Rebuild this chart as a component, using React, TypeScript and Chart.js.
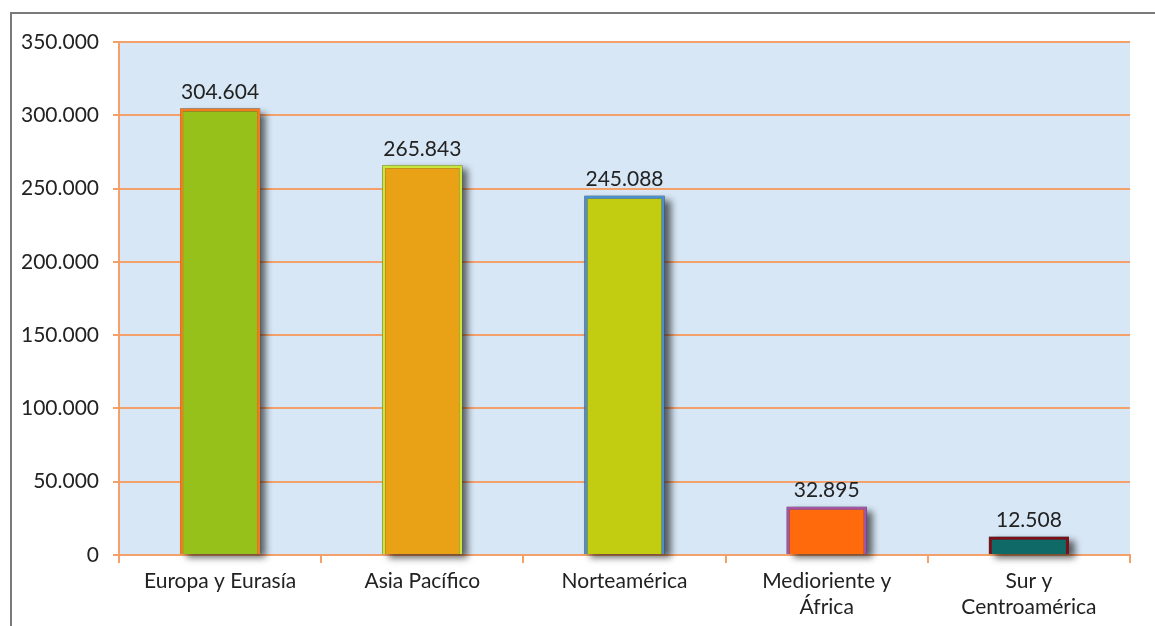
import React, { useEffect, useRef } from "react";
import { Chart, registerables } from "chart.js";

Chart.register(...registerables);

const categories: (string | string[])[] = [
  "Europa y Eurasía",
  "Asia Pacífico",
  "Norteamérica",
  ["Medioriente y", "África"],
  ["Sur y", "Centroamérica"],
];
const values = [304604, 265843, 245088, 32895, 12508];
const fillColors = ["#95c11a", "#e9a116", "#c2cd12", "#ff6b0c", "#0f6a67"];
const borderColors = ["#f47b20", "#c8e63c", "#4a8fd2", "#a555a6", "#7b1018"];
const yTickValues = [0, 50000, 100000, 150000, 200000, 250000, 300000, 350000];

const fmt = (v: number) => String(Math.round(v)).replace(/\B(?=(\d{3})+(?!\d))/g, ".");

const ORANGE = "#f4a06a";
const FONT = "Lato";
const TEXT = "#222222";

const chartPlugin = {
  id: "custom",
  beforeDraw(chart: any) {
    const { ctx, chartArea } = chart;
    ctx.save();
    ctx.fillStyle = "#d7e7f5";
    ctx.fillRect(chartArea.left, chartArea.top, chartArea.right - chartArea.left, chartArea.bottom - chartArea.top);
    ctx.restore();
  },
  beforeDatasetsDraw(chart: any) {
    const { ctx } = chart;
    const meta = chart.getDatasetMeta(0);
    meta.data.forEach((bar: any) => {
      const w = bar.width;
      const x0 = bar.x - w / 2;
      const y0 = bar.y;
      const h = bar.base - bar.y;
      ctx.save();
      ctx.shadowColor = "rgba(0,0,0,0.6)";
      ctx.shadowBlur = 7;
      ctx.shadowOffsetX = 6;
      ctx.shadowOffsetY = 4;
      ctx.fillStyle = "rgba(50,50,50,1)";
      ctx.fillRect(x0, y0, w, h);
      ctx.restore();
    });
  },
  afterDatasetsDraw(chart: any) {
    const { ctx } = chart;
    const meta = chart.getDatasetMeta(0);
    ctx.save();
    ctx.font = `21px ${FONT}`;
    ctx.fillStyle = TEXT;
    ctx.textAlign = "center";
    ctx.textBaseline = "bottom";
    meta.data.forEach((bar: any, i: number) => {
      ctx.fillText(fmt(values[i]), bar.x, bar.y - 6);
    });
    ctx.restore();
  },
};

export default function App() {
  const ref = useRef<HTMLCanvasElement | null>(null);
  useEffect(() => {
    if (!ref.current) return;
    const chart = new Chart(ref.current, {
      type: "bar",
      data: {
        labels: categories,
        datasets: [
          {
            data: values,
            backgroundColor: fillColors,
            borderColor: borderColors,
            borderWidth: 3,
            categoryPercentage: 1,
            barPercentage: 0.396,
          },
        ],
      },
      options: {
        responsive: false,
        animation: false,
        layout: { padding: { top: 42, right: 25, left: 0, bottom: 0 } },
        plugins: { legend: { display: false }, tooltip: { enabled: false } },
        scales: {
          x: {
            grid: {
              drawOnChartArea: false,
              drawTicks: true,
              tickLength: 8,
              tickColor: ORANGE,
              lineWidth: 2,
              offset: true,
            },
            border: { color: ORANGE, width: 2 },
            ticks: {
              color: TEXT,
              font: { family: FONT, size: 21, lineHeight: 1.2 },
              padding: 6,
              maxRotation: 0,
              autoSkip: false,
            },
            afterFit(scale: any) {
              scale.height = 71;
            },
          },
          y: {
            min: 0,
            max: 350000,
            afterBuildTicks(scale: any) {
              scale.ticks = yTickValues.map((v) => ({ value: v }));
            },
            grid: {
              color: ORANGE,
              lineWidth: 2,
              tickLength: 6,
              tickColor: ORANGE,
            },
            border: { color: ORANGE, width: 2 },
            ticks: {
              color: TEXT,
              font: { family: FONT, size: 21 },
              padding: 14,
              callback: (v: any) => fmt(Number(v)),
            },
            afterFit(scale: any) {
              scale.width = 119;
            },
          },
        },
      },
      plugins: [chartPlugin],
    });
    return () => chart.destroy();
  }, []);

  return (
    <div style={{ position: "absolute", left: 0, top: 0, width: 1155, height: 626, background: "#fff", overflow: "hidden" }}>
      <div
        style={{
          position: "absolute",
          left: 10,
          top: 12,
          width: 1200,
          height: 700,
          borderLeft: "2px solid #7a7a7a",
          borderTop: "2px solid #7a7a7a",
          boxSizing: "border-box",
        }}
      />
      <canvas ref={ref} width={1155} height={626} style={{ position: "absolute", left: 0, top: 0 }} />
    </div>
  );
}
